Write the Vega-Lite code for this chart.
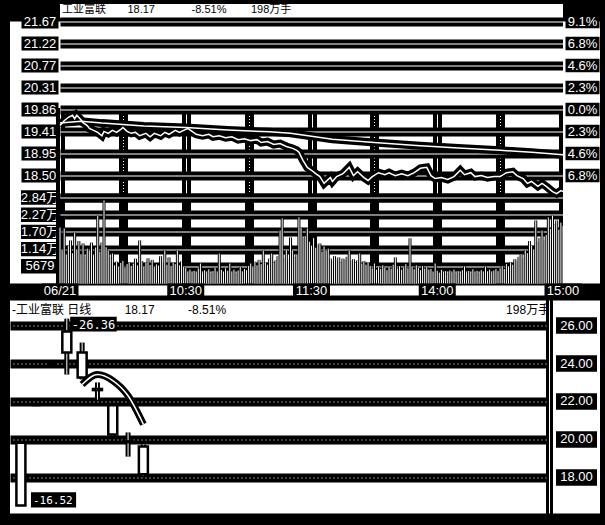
{
"$schema":"https://vega.github.io/schema/vega-lite/v6.json",
"background":"black",
"padding":{"left":10,"top":4,"right":5,"bottom":11},
"config":{"view":{"stroke":null},"font":"Liberation Sans, Noto Sans CJK SC","concat":{"spacing":0},"axis":{"minExtent":0,"maxExtent":0}},
"datasets":{
"price":[{"t":0,"p":19.53},{"t":2,"p":19.63},{"t":4,"p":19.70},{"t":6,"p":19.74},{"t":7,"p":19.67},{"t":8,"p":19.74},{"t":10,"p":19.65},{"t":11,"p":19.59},{"t":13,"p":19.53},{"t":14,"p":19.47},{"t":16,"p":19.43},{"t":18,"p":19.39},{"t":20,"p":19.32},{"t":21,"p":19.41},{"t":23,"p":19.37},{"t":25,"p":19.43},{"t":27,"p":19.39},{"t":29,"p":19.45},{"t":30,"p":19.49},{"t":32,"p":19.41},{"t":34,"p":19.37},{"t":36,"p":19.39},{"t":38,"p":19.32},{"t":41,"p":19.37},{"t":43,"p":19.30},{"t":45,"p":19.37},{"t":48,"p":19.32},{"t":50,"p":19.39},{"t":52,"p":19.35},{"t":55,"p":19.43},{"t":57,"p":19.39},{"t":60,"p":19.45},{"t":61,"p":19.47},{"t":63,"p":19.41},{"t":65,"p":19.35},{"t":68,"p":19.32},{"t":71,"p":19.35},{"t":73,"p":19.30},{"t":76,"p":19.32},{"t":79,"p":19.28},{"t":82,"p":19.30},{"t":85,"p":19.24},{"t":88,"p":19.26},{"t":91,"p":19.22},{"t":94,"p":19.24},{"t":96,"p":19.18},{"t":99,"p":19.20},{"t":102,"p":19.14},{"t":105,"p":19.16},{"t":108,"p":19.10},{"t":111,"p":19.06},{"t":113,"p":19.02},{"t":114,"p":18.98},{"t":116,"p":18.81},{"t":118,"p":18.67},{"t":120,"p":18.61},{"t":122,"p":18.54},{"t":124,"p":18.48},{"t":126,"p":18.34},{"t":129,"p":18.46},{"t":130,"p":18.38},{"t":132,"p":18.48},{"t":135,"p":18.54},{"t":138,"p":18.67},{"t":140,"p":18.50},{"t":142,"p":18.58},{"t":145,"p":18.46},{"t":147,"p":18.40},{"t":149,"p":18.48},{"t":152,"p":18.56},{"t":155,"p":18.52},{"t":157,"p":18.56},{"t":160,"p":18.50},{"t":163,"p":18.54},{"t":166,"p":18.50},{"t":169,"p":18.56},{"t":172,"p":18.65},{"t":175,"p":18.67},{"t":177,"p":18.50},{"t":179,"p":18.44},{"t":182,"p":18.46},{"t":185,"p":18.42},{"t":188,"p":18.48},{"t":191,"p":18.61},{"t":193,"p":18.52},{"t":196,"p":18.56},{"t":198,"p":18.48},{"t":201,"p":18.50},{"t":204,"p":18.46},{"t":207,"p":18.48},{"t":210,"p":18.48},{"t":213,"p":18.56},{"t":216,"p":18.58},{"t":218,"p":18.50},{"t":221,"p":18.44},{"t":223,"p":18.34},{"t":225,"p":18.38},{"t":228,"p":18.28},{"t":230,"p":18.34},{"t":232,"p":18.28},{"t":235,"p":18.17},{"t":237,"p":18.13},{"t":239,"p":18.19},{"t":240,"p":18.17}],
"avg":[{"t":0,"a":19.58},{"t":10,"a":19.62},{"t":20,"a":19.58},{"t":40,"a":19.52},{"t":60,"a":19.49},{"t":80,"a":19.44},{"t":100,"a":19.40},{"t":110,"a":19.37},{"t":120,"a":19.31},{"t":130,"a":19.25},{"t":150,"a":19.18},{"t":170,"a":19.12},{"t":190,"a":19.07},{"t":210,"a":19.02},{"t":225,"a":18.98},{"t":240,"a":18.93}],
"vol":[{"t":0,"v":18500},{"t":1,"v":11000},{"t":2,"v":18200},{"t":3,"v":9500},{"t":4,"v":12500},{"t":5,"v":14200},{"t":6,"v":10000},{"t":7,"v":16800},{"t":8,"v":11200},{"t":9,"v":14000},{"t":10,"v":9600},{"t":11,"v":13200},{"t":12,"v":8800},{"t":13,"v":11500},{"t":14,"v":10800},{"t":15,"v":13500},{"t":16,"v":9200},{"t":17,"v":11900},{"t":18,"v":22400},{"t":19,"v":10500},{"t":20,"v":13500},{"t":21,"v":27400},{"t":22,"v":12000},{"t":23,"v":10900},{"t":24,"v":8500},
{"t":25,"v":9900},{"t":26,"v":6000},{"t":27,"v":7200},{"t":28,"v":5500},{"t":29,"v":6800},{"t":30,"v":7500},{"t":31,"v":5200},{"t":32,"v":6400},{"t":33,"v":7000},{"t":34,"v":5800},{"t":35,"v":6600},{"t":36,"v":8200},{"t":37,"v":6000},{"t":38,"v":14200},{"t":39,"v":7400},{"t":40,"v":5600},{"t":41,"v":6900},{"t":42,"v":8300},{"t":43,"v":6100},{"t":44,"v":7800},{"t":45,"v":5400},{"t":46,"v":6300},{"t":47,"v":5900},{"t":48,"v":9000},{"t":49,"v":7100},{"t":50,"v":10900},{"t":51,"v":6200},{"t":52,"v":8600},{"t":53,"v":5800},{"t":54,"v":7000},{"t":55,"v":6400},{"t":56,"v":10900},{"t":57,"v":6000},{"t":58,"v":7300},{"t":59,"v":5500},
{"t":60,"v":5200},{"t":61,"v":4000},{"t":62,"v":4600},{"t":63,"v":3500},{"t":64,"v":4200},{"t":65,"v":3800},{"t":66,"v":5000},{"t":67,"v":6600},{"t":68,"v":3600},{"t":69,"v":4400},{"t":70,"v":3900},{"t":71,"v":4700},{"t":72,"v":3300},{"t":73,"v":4100},{"t":74,"v":5200},{"t":75,"v":3700},{"t":76,"v":9900},{"t":77,"v":4500},{"t":78,"v":3800},{"t":79,"v":5000},{"t":80,"v":4200},{"t":81,"v":6600},{"t":82,"v":3900},{"t":83,"v":4600},{"t":84,"v":3500},{"t":85,"v":4300},{"t":86,"v":5500},{"t":87,"v":4000},{"t":88,"v":4800},{"t":89,"v":4400},
{"t":90,"v":5800},{"t":91,"v":6600},{"t":92,"v":5400},{"t":93,"v":7200},{"t":94,"v":6000},{"t":95,"v":7800},{"t":96,"v":6400},{"t":97,"v":10900},{"t":98,"v":7000},{"t":99,"v":6200},{"t":100,"v":8200},{"t":101,"v":9900},{"t":102,"v":6800},{"t":103,"v":7600},{"t":104,"v":9000},{"t":105,"v":17500},{"t":106,"v":21500},{"t":107,"v":8400},{"t":108,"v":11000},{"t":109,"v":7800},{"t":110,"v":15200},{"t":111,"v":10900},{"t":112,"v":8600},{"t":113,"v":9500},
{"t":114,"v":21800},{"t":115,"v":18500},{"t":116,"v":14800},{"t":117,"v":15600},{"t":118,"v":18200},{"t":119,"v":13800},{"t":120,"v":12500},{"t":121,"v":15000},{"t":122,"v":11800},{"t":123,"v":12800},{"t":124,"v":13200},{"t":125,"v":10500},{"t":126,"v":12200},{"t":127,"v":10900},{"t":128,"v":11500},
{"t":129,"v":8200},{"t":130,"v":7400},{"t":131,"v":9000},{"t":132,"v":7800},{"t":133,"v":8600},{"t":134,"v":7000},{"t":135,"v":8200},{"t":136,"v":7600},{"t":137,"v":8800},{"t":138,"v":10900},{"t":139,"v":7200},{"t":140,"v":8000},{"t":141,"v":6800},{"t":142,"v":7600},{"t":143,"v":9900},{"t":144,"v":6600},{"t":145,"v":7400},{"t":146,"v":6200},{"t":147,"v":7000},
{"t":148,"v":5800},{"t":149,"v":5000},{"t":150,"v":6600},{"t":151,"v":4600},{"t":152,"v":5400},{"t":153,"v":4800},{"t":154,"v":6000},{"t":155,"v":5200},{"t":156,"v":4400},{"t":157,"v":5600},{"t":158,"v":4900},{"t":159,"v":6200},{"t":160,"v":8600},{"t":161,"v":5000},{"t":162,"v":5700},{"t":163,"v":4600},{"t":164,"v":5300},{"t":165,"v":6400},{"t":166,"v":5000},{"t":167,"v":14900},{"t":168,"v":5600},{"t":169,"v":4700},{"t":170,"v":6000},{"t":171,"v":5100},{"t":172,"v":4400},{"t":173,"v":5800},{"t":174,"v":4900},{"t":175,"v":5500},{"t":176,"v":4600},
{"t":177,"v":4800},{"t":178,"v":3900},{"t":179,"v":6600},{"t":180,"v":4200},{"t":181,"v":3600},{"t":182,"v":4500},{"t":183,"v":3800},{"t":184,"v":4100},{"t":185,"v":3400},{"t":186,"v":4300},{"t":187,"v":3700},{"t":188,"v":4600},{"t":189,"v":3500},{"t":190,"v":4000},{"t":191,"v":3300},{"t":192,"v":4400},{"t":193,"v":5600},{"t":194,"v":3600},{"t":195,"v":4100},{"t":196,"v":3400},{"t":197,"v":4700},{"t":198,"v":3800},{"t":199,"v":4200},{"t":200,"v":3500},{"t":201,"v":4400},{"t":202,"v":3900},{"t":203,"v":5600},{"t":204,"v":4000},{"t":205,"v":4600},{"t":206,"v":3700},{"t":207,"v":4300},{"t":208,"v":4800},{"t":209,"v":4100},
{"t":210,"v":5000},{"t":211,"v":5800},{"t":212,"v":4800},{"t":213,"v":6400},{"t":214,"v":5600},{"t":215,"v":7000},{"t":216,"v":6200},{"t":217,"v":8000},{"t":218,"v":7200},{"t":219,"v":8800},{"t":220,"v":9600},{"t":221,"v":8400},{"t":222,"v":11000},{"t":223,"v":10000},{"t":224,"v":14000},{"t":225,"v":12500},{"t":226,"v":11200},{"t":227,"v":20800},{"t":228,"v":13500},
{"t":229,"v":15000},{"t":230,"v":17500},{"t":231,"v":14200},{"t":232,"v":16000},{"t":233,"v":21800},{"t":234,"v":18000},{"t":235,"v":22400},{"t":236,"v":19500},{"t":237,"v":20800},{"t":238,"v":17800},{"t":239,"v":20100},{"t":240,"v":19000}],
"plabels":[{"p":21.67,"lbl":"21.67","pct":"9.1%"},{"p":21.2175,"lbl":"21.22","pct":"6.8%"},{"p":20.765,"lbl":"20.77","pct":"4.6%"},{"p":20.3125,"lbl":"20.31","pct":"2.3%"},{"p":19.86,"lbl":"19.86","pct":"0.0%"},{"p":19.4075,"lbl":"19.41","pct":"2.3%"},{"p":18.955,"lbl":"18.95","pct":"4.6%"},{"p":18.5025,"lbl":"18.50","pct":"6.8%"}],
"vlabels":[{"v":28395,"lbl":"2.84万"},{"v":22716,"lbl":"2.27万"},{"v":17037,"lbl":"1.70万"},{"v":11358,"lbl":"1.14万"},{"v":5679,"lbl":"5679"}],
"tlabels":[{"t":0,"lbl":"06/21"},{"t":60,"lbl":"10:30"},{"t":120,"lbl":"11:30"},{"t":180,"lbl":"14:00"},{"t":240,"lbl":"15:00"}],
"dlabels":[{"y":26,"lbl":"26.00"},{"y":24,"lbl":"24.00"},{"y":22,"lbl":"22.00"},{"y":20,"lbl":"20.00"},{"y":18,"lbl":"18.00"}],
"candles":[{"d":1,"o":16.52,"h":19.83,"l":16.52,"c":19.83},{"d":2,"o":21.81,"h":21.81,"l":21.81,"c":21.81},{"d":3,"o":23.99,"h":23.99,"l":23.99,"c":23.99},{"d":4,"o":25.68,"h":26.36,"l":23.42,"c":24.58},{"d":5,"o":24.58,"h":25.10,"l":23.16,"c":23.26},{"d":6,"o":22.60,"h":23.00,"l":22.10,"c":22.66},{"d":7,"o":21.80,"h":21.84,"l":20.20,"c":20.26},{"d":8,"o":19.90,"h":20.37,"l":19.10,"c":19.86},{"d":9,"o":19.63,"h":19.74,"l":18.10,"c":18.17}],
"ma5":[{"d":5,"m":22.89},{"d":6,"m":23.42},{"d":7,"m":23.10},{"d":8,"m":22.30},{"d":9,"m":20.80}],
"hi":[{"d":4,"y":26.36,"lbl":"-26.36"}],
"lo":[{"d":1,"y":16.52,"lbl":"-16.52"}]
},
"vconcat":[
{"hconcat":[
 {"width":50,"height":14,"data":{"values":[{}]},"mark":{"type":"point","opacity":0,"size":1}},
 {"width":503,"height":14,"view":{"fill":"white"},"data":{"values":[{}]},"mark":{"type":"point","opacity":0,"size":1},
  "title":{"text":"工业富联\u00a0\u00a0\u00a0\u00a0\u00a0\u00a0\u00a018.17\u00a0\u00a0\u00a0\u00a0\u00a0\u00a0\u00a0\u00a0\u00a0\u00a0\u00a0\u00a0-8.51%\u00a0\u00a0\u00a0\u00a0\u00a0\u00a0\u00a0\u00a0198万手","anchor":"start","offset":-11,"fontSize":11,"fontWeight":"normal","color":"black","dx":2}},
 {"width":37,"height":14,"data":{"values":[{}]},"mark":{"type":"point","opacity":0,"size":1}}
],"bounds":"flush","spacing":0},
{"hconcat":[
 {"width":50,"height":262,"view":{"fill":"white"},
  "layer":[
   {"data":{"name":"plabels"},"mark":{"type":"point","shape":"M-1,-0.38H1V0.38H-1Z","size":1369,"filled":true,"color":"black","opacity":1,"xOffset":5},
    "encoding":{"y":{"field":"p","type":"quantitative","scale":{"domain":[18.05,21.67],"range":[176,0],"nice":false,"zero":false},"axis":null}}},
   {"data":{"name":"plabels"},"mark":{"type":"text","color":"white","fontSize":13,"baseline":"middle","xOffset":5},
    "encoding":{"y":{"field":"p","type":"quantitative","scale":{"domain":[18.05,21.67],"range":[176,0],"nice":false,"zero":false},"axis":null},"text":{"field":"lbl"}}},
   {"data":{"name":"vlabels"},"mark":{"type":"point","shape":"M-1,-0.38H1V0.38H-1Z","size":1444,"filled":true,"color":"black","opacity":1,"xOffset":5},
    "encoding":{"y":{"field":"v","type":"quantitative","scale":{"domain":[0,28395],"range":[262,176],"nice":false,"zero":false},"axis":null}}},
   {"data":{"name":"vlabels"},"mark":{"type":"text","color":"white","fontSize":13,"baseline":"middle","xOffset":5},
    "encoding":{"y":{"field":"v","type":"quantitative","scale":{"domain":[0,28395],"range":[262,176],"nice":false,"zero":false},"axis":null},"text":{"field":"lbl"}}}
  ],
  "resolve":{"scale":{"y":"independent"}}},
 {"width":503,"height":262,"view":{"fill":"white"},
  "layer":[
   {"data":{"name":"avg"},"mark":{"type":"line","color":"black","strokeWidth":8},
    "encoding":{"x":{"field":"t","type":"quantitative","scale":{"domain":[0,240],"nice":false,"zero":false},"axis":{"orient":"bottom","values":[0,30,60,90,120,150,180,210,240],"grid":true,"gridColor":"black","gridWidth":9,"gridOpacity":1,"labels":false,"ticks":false,"domain":false,"title":null}},
     "y":{"field":"a","type":"quantitative","scale":{"domain":[18.05,21.67],"range":[176,0],"nice":false,"zero":false},"axis":{"orient":"left","values":[18.05,18.5025,18.955,19.4075,19.86,20.3125,20.765,21.2175,21.67],"grid":true,"gridColor":"black","gridWidth":9,"gridOpacity":1,"labels":false,"ticks":false,"domain":false,"title":null}}}},
   {"data":{"name":"price"},"mark":{"type":"line","color":"black","strokeWidth":8},
    "encoding":{"x":{"field":"t","type":"quantitative","axis":{"orient":"top","values":[0,30,60,90,120,150,180,210,240],"grid":true,"gridColor":"white","gridWidth":1,"gridOpacity":1,"gridDash":{"condition":{"test":"datum.value % 60 !== 0","value":[1,2]},"value":[]},"labels":false,"ticks":false,"domain":false,"title":null}},
     "y":{"field":"p","type":"quantitative","scale":{"domain":[18.05,21.67],"range":[176,0],"nice":false,"zero":false},"axis":{"orient":"right","values":[18.05,18.5025,18.955,19.4075,19.86,20.3125,20.765,21.2175,21.67],"grid":true,"gridColor":"white","gridWidth":1,"gridOpacity":1,"labels":false,"ticks":false,"domain":false,"title":null}}}},
   {"data":{"name":"avg"},"mark":{"type":"line","color":"white","strokeWidth":1.5},
    "encoding":{"x":{"field":"t","type":"quantitative","axis":null},"y":{"field":"a","type":"quantitative","scale":{"domain":[18.05,21.67],"range":[176,0],"nice":false,"zero":false},"axis":null}}},
   {"data":{"name":"price"},"mark":{"type":"line","color":"white","strokeWidth":1.5},
    "encoding":{"x":{"field":"t","type":"quantitative","axis":null},"y":{"field":"p","type":"quantitative","scale":{"domain":[18.05,21.67],"range":[176,0],"nice":false,"zero":false},"axis":null}}},
   {"data":{"name":"vol"},"mark":{"type":"rule","color":"black","strokeWidth":3},
    "encoding":{"x":{"field":"t","type":"quantitative","axis":null},
     "y":{"field":"v","type":"quantitative","scale":{"domain":[0,28395],"range":[262,176],"nice":false,"zero":false},"axis":{"orient":"left","values":[5679,11358,17037,22716,28395],"grid":true,"gridColor":"black","gridWidth":9,"gridOpacity":1,"labels":false,"ticks":false,"domain":false,"title":null}},
     "y2":{"datum":0}}},
   {"data":{"name":"vol"},"mark":{"type":"rule","color":"white","strokeWidth":1},
    "encoding":{"x":{"field":"t","type":"quantitative","axis":null},
     "y":{"field":"v","type":"quantitative","scale":{"domain":[0,28395],"range":[262,176],"nice":false,"zero":false},"axis":{"orient":"right","values":[5679,11358,17037,22716,28395],"grid":true,"gridColor":"white","gridWidth":1,"gridOpacity":1,"labels":false,"ticks":false,"domain":false,"title":null}},
     "y2":{"datum":0}}}
  ],
  "resolve":{"scale":{"y":"independent"},"axis":{"x":"independent","y":"independent"}}},
 {"width":37,"height":262,"view":{"fill":"white"},"data":{"name":"plabels"},
  "layer":[
   {"mark":{"type":"point","shape":"M-1,-0.4H1V0.4H-1Z","size":1156,"filled":true,"color":"black","opacity":1,"xOffset":1},
    "encoding":{"y":{"field":"p","type":"quantitative","scale":{"domain":[18.05,21.67],"range":[176,0],"nice":false,"zero":false},"axis":null}}},
   {"mark":{"type":"text","color":"white","fontSize":13,"baseline":"middle","xOffset":1},
    "encoding":{"y":{"field":"p","type":"quantitative","scale":{"domain":[18.05,21.67],"range":[176,0],"nice":false,"zero":false},"axis":null},"text":{"field":"pct"}}}
  ]}
],"bounds":"flush","spacing":0},
{"hconcat":[
 {"width":50,"height":10,"data":{"values":[{}]},"mark":{"type":"point","opacity":0,"size":1}},
 {"width":503,"height":10,"view":{"fill":"white"},"data":{"name":"tlabels"},
  "layer":[
   {"mark":{"type":"point","shape":"M-1,-0.38H1V0.38H-1Z","size":1369,"filled":true,"color":"black","opacity":1},
    "encoding":{"x":{"field":"t","type":"quantitative","scale":{"domain":[0,240],"nice":false,"zero":false},"axis":null}}},
   {"mark":{"type":"text","color":"white","fontSize":13,"baseline":"middle"},
    "encoding":{"x":{"field":"t","type":"quantitative","scale":{"domain":[0,240],"nice":false,"zero":false},"axis":null},"text":{"field":"lbl"}}}
  ]},
 {"width":37,"height":10,"data":{"values":[{}]},"mark":{"type":"point","opacity":0,"size":1}}
],"bounds":"flush","spacing":0},
{"width":590,"height":2,"data":{"values":[{}]},"mark":{"type":"point","opacity":0,"size":1}},
{"hconcat":[
 {"width":536,"height":213,"view":{"fill":"white"},
  "title":{"text":"-工业富联 日线\u00a0\u00a0\u00a0\u00a0\u00a0\u00a0\u00a0\u00a0\u00a0\u00a018.17\u00a0\u00a0\u00a0\u00a0\u00a0\u00a0\u00a0\u00a0\u00a0\u00a0-8.51%\u00a0\u00a0\u00a0\u00a0\u00a0\u00a0\u00a0\u00a0\u00a0\u00a0\u00a0\u00a0\u00a0\u00a0\u00a0\u00a0\u00a0\u00a0\u00a0\u00a0\u00a0\u00a0\u00a0\u00a0\u00a0\u00a0\u00a0\u00a0\u00a0\u00a0\u00a0\u00a0\u00a0\u00a0\u00a0\u00a0\u00a0\u00a0\u00a0\u00a0\u00a0\u00a0\u00a0\u00a0\u00a0\u00a0\u00a0\u00a0\u00a0\u00a0\u00a0\u00a0\u00a0\u00a0\u00a0\u00a0\u00a0\u00a0\u00a0\u00a0\u00a0\u00a0\u00a0\u00a0\u00a0\u00a0\u00a0\u00a0\u00a0\u00a0\u00a0\u00a0\u00a0\u00a0\u00a0\u00a0\u00a0\u00a0\u00a0\u00a0\u00a0\u00a0\u00a0\u00a0198万手","anchor":"start","offset":-16,"fontSize":12,"fontWeight":"normal","color":"black","dx":2},
  "layer":[
   {"data":{"name":"candles"},"mark":{"type":"rule","color":"black","strokeWidth":5},
    "encoding":{"x":{"field":"d","type":"quantitative","scale":{"domain":[0.615,34.97],"nice":false,"zero":false},"axis":null},
     "y":{"field":"l","type":"quantitative","scale":{"domain":[16.105,27.316],"nice":false,"zero":false},"axis":{"orient":"left","values":[18,20,22,24,26],"grid":true,"gridColor":"black","gridWidth":9,"gridOpacity":1,"labels":false,"ticks":false,"domain":false,"title":null}},
     "y2":{"field":"h"}}},
   {"data":{"name":"candles"},"mark":{"type":"rule","color":"white","strokeWidth":1},
    "encoding":{"x":{"field":"d","type":"quantitative","axis":null},
     "y":{"field":"l","type":"quantitative","axis":{"orient":"right","values":[18,20,22,24,26],"grid":true,"gridColor":"white","gridWidth":1,"gridOpacity":1,"gridDash":[1,3],"labels":false,"ticks":false,"domain":false,"title":null}},
     "y2":{"field":"h"}}},
   {"data":{"name":"candles"},"mark":{"type":"bar","width":9,"fill":"white","stroke":"black","strokeWidth":2.5},
    "encoding":{"x":{"field":"d","type":"quantitative","axis":null},"y":{"field":"o","type":"quantitative","axis":null},"y2":{"field":"c"}}},
   {"data":{"name":"ma5"},"mark":{"type":"line","color":"black","strokeWidth":7,"interpolate":"monotone"},
    "encoding":{"x":{"field":"d","type":"quantitative","axis":null},"y":{"field":"m","type":"quantitative","axis":null}}},
   {"data":{"name":"ma5"},"mark":{"type":"line","color":"white","strokeWidth":1.5,"interpolate":"monotone"},
    "encoding":{"x":{"field":"d","type":"quantitative","axis":null},"y":{"field":"m","type":"quantitative","axis":null}}},
   {"data":{"name":"hi"},"mark":{"type":"point","shape":"M0.14,-0.08H2.08V0.54H0.14Z","size":2304,"filled":true,"color":"black","opacity":1},
    "encoding":{"x":{"field":"d","type":"quantitative","axis":null},"y":{"field":"y","type":"quantitative","axis":null}}},
   {"data":{"name":"hi"},"mark":{"type":"text","color":"white","fontSize":12,"font":"DejaVu Sans Mono","align":"left","baseline":"middle","dx":5,"dy":6},
    "encoding":{"x":{"field":"d","type":"quantitative","axis":null},"y":{"field":"y","type":"quantitative","axis":null},"text":{"field":"lbl"}}},
   {"data":{"name":"lo"},"mark":{"type":"point","shape":"M0.42,-0.56H2.3V0.08H0.42Z","size":2304,"filled":true,"color":"black","opacity":1},
    "encoding":{"x":{"field":"d","type":"quantitative","axis":null},"y":{"field":"y","type":"quantitative","axis":null}}},
   {"data":{"name":"lo"},"mark":{"type":"text","color":"white","fontSize":11,"font":"DejaVu Sans Mono","align":"left","baseline":"middle","dx":12,"dy":-5},
    "encoding":{"x":{"field":"d","type":"quantitative","axis":null},"y":{"field":"y","type":"quantitative","axis":null},"text":{"field":"lbl"}}}
  ],
  "resolve":{"axis":{"y":"independent"}}},
 {"width":3,"height":213,"data":{"values":[{}]},"mark":{"type":"point","opacity":0,"size":1}},
 {"width":1,"height":213,"view":{"fill":"white"},"data":{"values":[{}]},"mark":{"type":"point","opacity":0,"size":1}},
 {"width":3,"height":213,"data":{"values":[{}]},"mark":{"type":"point","opacity":0,"size":1}},
 {"width":47,"height":213,"view":{"fill":"white"},"data":{"name":"dlabels"},
  "layer":[
   {"mark":{"type":"point","shape":"M-1,-0.4H1V0.4H-1Z","size":1681,"filled":true,"color":"black","opacity":1},
    "encoding":{"y":{"field":"y","type":"quantitative","scale":{"domain":[16.105,27.316],"nice":false,"zero":false},"axis":null}}},
   {"mark":{"type":"text","color":"white","fontSize":13,"baseline":"middle"},
    "encoding":{"y":{"field":"y","type":"quantitative","scale":{"domain":[16.105,27.316],"nice":false,"zero":false},"axis":null},"text":{"field":"lbl"}}}
  ]}
],"bounds":"flush","spacing":0}
],
"spacing":-4.5
}
